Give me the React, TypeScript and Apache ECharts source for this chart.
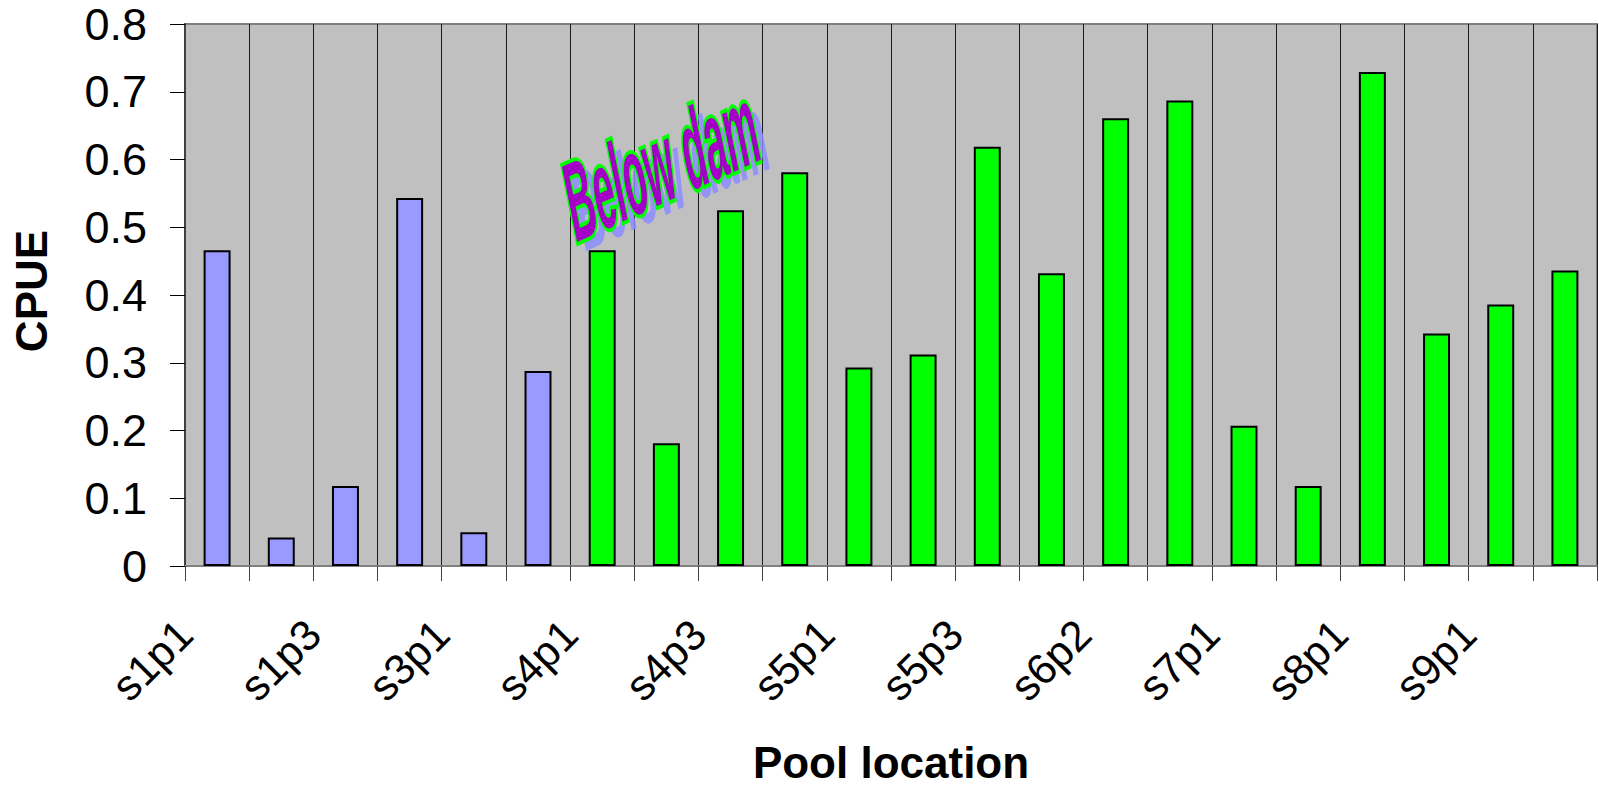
import React, { useEffect, useRef } from 'react';
import * as echarts from 'echarts';

// Pool locations (only every other one is labelled on the axis)
const categories = [
  's1p1', 's1p2', 's1p3', 's2p1', 's3p1', 's3p2',
  's4p1', 's4p2', 's4p3', 's4p4', 's5p1', 's5p2',
  's5p3', 's6p1', 's6p2', 's6p3', 's7p1', 's7p2',
  's8p1', 's8p2', 's9p1', 's9p2',
];

// CPUE per pool
const cpue = [
  0.466, 0.042, 0.118, 0.543, 0.050, 0.288,
  0.466, 0.181, 0.525, 0.581, 0.293, 0.312,
  0.619, 0.432, 0.661, 0.687, 0.207, 0.118,
  0.729, 0.343, 0.386, 0.436,
];

// Position of each pool relative to the dam
const damPosition = [
  'above', 'above', 'above', 'above', 'above', 'above',
  'below', 'below', 'below', 'below', 'below', 'below',
  'below', 'below', 'below', 'below', 'below', 'below',
  'below', 'below', 'below', 'below',
];

const yMin = 0;
const yMax = 0.8;
const yStep = 0.1;

const xTitle = 'Pool location';
const yTitle = 'CPUE';
const annotation = 'Below dam';

const groupColors: Record<string, string> = { above: '#9999FF', below: '#00FF00' };
const FONT = '"Liberation Sans", Arial, Helvetica, sans-serif';

export default function App() {
  const ref = useRef<HTMLDivElement>(null);

  useEffect(() => {
    document.body.style.margin = '0';
    document.body.style.overflow = 'hidden';
    if (!ref.current) return;
    const chart = echarts.init(ref.current, undefined, { renderer: 'svg' });

    const data = cpue.map((v, i) => ({
      value: v,
      itemStyle: { color: groupColors[damPosition[i]] },
    }));

    const ox = 567;
    const oy = 205;
    const wordCommon = {
      skewX: 0.2,
      skewY: 0.42,
      scaleX: 0.85,
      scaleY: 2.6,
    };
    const wordStyle = {
      text: annotation,
      fontSize: 42,
      fontWeight: 'bold',
      fontFamily: '"Liberation Sans Narrow", "Arial Narrow", "Liberation Sans", Arial, sans-serif',
      align: 'left',
      verticalAlign: 'middle',
    };

    chart.setOption({
      animation: false,
      backgroundColor: '#FFFFFF',
      grid: {
        left: 185,
        right: 2,
        top: 24,
        bottom: 219,
        show: true,
        backgroundColor: '#C0C0C0',
        borderColor: '#808080',
        borderWidth: 2,
        containLabel: false,
        outerBoundsMode: 'none',
      },
      xAxis: [
        {
          type: 'category',
          data: categories,
          boundaryGap: true,
          position: 'bottom',
          axisLine: { show: true, lineStyle: { color: '#808080', width: 2 } },
          axisTick: { show: true, interval: 0, length: 15, lineStyle: { color: '#404040', width: 1 } },
          axisLabel: { show: false },
          splitLine: { show: true, interval: 0, lineStyle: { color: '#1A1A1A', width: 1 } },
        },
        {
          // label-only axis: labels sit on the category boundaries, as in the reference
          type: 'category',
          data: [...categories, ''],
          boundaryGap: false,
          position: 'bottom',
          axisLine: { show: false },
          axisTick: { show: false },
          splitLine: { show: false },
          axisLabel: {
            show: true,
            interval: 1,
            rotate: 45,
            fontSize: 43,
            margin: 61,
            color: '#000000',
            fontFamily: FONT,
          },
        },
      ],
      yAxis: {
        type: 'value',
        min: yMin,
        max: yMax,
        interval: yStep,
        axisLine: { show: true, lineStyle: { color: '#404040', width: 2 } },
        axisTick: { show: true, length: 15, lineStyle: { color: '#000000', width: 1 } },
        axisLabel: { fontSize: 45, margin: 38, color: '#000000', fontFamily: FONT },
        splitLine: { show: false },
      },
      series: [
        {
          type: 'bar',
          xAxisIndex: 0,
          data,
          barWidth: '42%',
          itemStyle: { borderColor: '#000000', borderWidth: 2 },
        },
      ],
      graphic: [
        {
          type: 'text',
          x: 31,
          y: 291,
          rotation: Math.PI / 2,
          style: {
            text: yTitle,
            fontSize: 44,
            fontWeight: 'bold',
            fontFamily: FONT,
            fill: '#000000',
            align: 'center',
            verticalAlign: 'middle',
          },
        },
        {
          type: 'text',
          x: 891,
          y: 762,
          style: {
            text: xTitle,
            fontSize: 44,
            fontWeight: 'bold',
            fontFamily: FONT,
            fill: '#000000',
            align: 'center',
            verticalAlign: 'middle',
          },
        },
        {
          type: 'text',
          x: ox + 9,
          y: oy + 9,
          z: 100,
          ...wordCommon,
          style: { ...wordStyle, fill: 'rgba(140,140,255,0.85)' },
        },
        {
          type: 'text',
          x: ox,
          y: oy,
          z: 101,
          ...wordCommon,
          style: { ...wordStyle, fill: '#A400C8', stroke: '#00FF00', lineWidth: 3 },
        },
      ],
    });

    return () => chart.dispose();
  }, []);

  return (
    <div
      ref={ref}
      style={{ position: 'absolute', left: 0, top: 0, width: 1599, height: 785 }}
    />
  );
}
